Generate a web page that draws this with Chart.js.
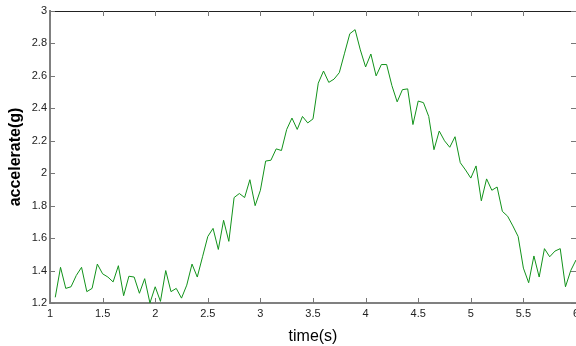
<!DOCTYPE html>
<html>
<head>
<meta charset="utf-8">
<script src="https://cdn.jsdelivr.net/npm/chart.js@4"></script>
<style>
  html, body { margin: 0; padding: 0; background: #fff; }
  canvas { display: block; }
</style>
</head>
<body>
<canvas id="accelChart" width="576" height="346"></canvas>
<script>
// sample times (s)
const times = [
  1.05, 1.10, 1.15, 1.20, 1.25, 1.30, 1.35, 1.40, 1.45, 1.50,
  1.55, 1.60, 1.65, 1.70, 1.75, 1.80, 1.85, 1.90, 1.95, 2.00,
  2.05, 2.10, 2.15, 2.20, 2.25, 2.30, 2.35, 2.40, 2.45, 2.50,
  2.55, 2.60, 2.65, 2.70, 2.75, 2.80, 2.85, 2.90, 2.95, 3.00,
  3.05, 3.10, 3.15, 3.20, 3.25, 3.30, 3.35, 3.40, 3.45, 3.50,
  3.55, 3.60, 3.65, 3.70, 3.75, 3.80, 3.85, 3.90, 3.95, 4.00,
  4.05, 4.10, 4.15, 4.20, 4.25, 4.30, 4.35, 4.40, 4.45, 4.50,
  4.55, 4.60, 4.65, 4.70, 4.75, 4.80, 4.85, 4.90, 4.95, 5.00,
  5.05, 5.10, 5.15, 5.20, 5.25, 5.30, 5.35, 5.40, 5.45, 5.50,
  5.55, 5.60, 5.65, 5.70, 5.75, 5.80, 5.85, 5.90, 5.95, 6.00
];

// acceleration (g)
const accel = [
  1.235, 1.42, 1.29, 1.30, 1.37, 1.42, 1.27, 1.29, 1.44, 1.38,
  1.36, 1.33, 1.43, 1.245, 1.365, 1.36, 1.26, 1.35, 1.20, 1.30,
  1.21, 1.40, 1.27, 1.29, 1.23, 1.31, 1.44, 1.36, 1.485, 1.61,
  1.66, 1.53, 1.71, 1.58, 1.85, 1.875, 1.85, 1.96, 1.80, 1.895,
  2.075, 2.08, 2.15, 2.14, 2.27, 2.34, 2.27, 2.35, 2.31, 2.335,
  2.555, 2.63, 2.56, 2.58, 2.62, 2.74, 2.86, 2.885, 2.76, 2.655,
  2.735, 2.60, 2.67, 2.67, 2.54, 2.44, 2.515, 2.52, 2.30, 2.445,
  2.435, 2.35, 2.145, 2.26, 2.20, 2.16, 2.225, 2.065, 2.02, 1.97,
  2.045, 1.83, 1.965, 1.895, 1.915, 1.765, 1.735, 1.675, 1.61, 1.415,
  1.325, 1.49, 1.36, 1.535, 1.485, 1.52, 1.535, 1.30, 1.40, 1.465
];

const xRange = [1, 6];
const yRange = [1.2, 3];

const points = times.map((t, i) => ({ x: t, y: accel[i] }));
const fmt = v => String(Math.round(v * 10) / 10);

// inward tick marks on all four sides plus the top frame line
const boxTicks = {
  id: 'boxTicks',
  afterDraw(chart) {
    const { ctx, chartArea: a, scales: { x, y } } = chart;
    const len = 5;
    ctx.save();
    ctx.strokeStyle = '#222';
    ctx.lineWidth = 1;
    ctx.beginPath();
    ctx.moveTo(a.left, a.top + 0.5);
    ctx.lineTo(a.right, a.top + 0.5);
    ctx.stroke();

    ctx.strokeStyle = '#777';
    ctx.beginPath();
    x.ticks.forEach(t => {
      const px = Math.round(x.getPixelForValue(t.value)) + 0.5;
      ctx.moveTo(px, a.bottom);
      ctx.lineTo(px, a.bottom - len);
      ctx.moveTo(px, a.top);
      ctx.lineTo(px, a.top + len);
    });
    y.ticks.forEach(t => {
      const py = Math.round(y.getPixelForValue(t.value)) + 0.5;
      ctx.moveTo(a.left, py);
      ctx.lineTo(a.left + len, py);
      ctx.moveTo(a.right, py);
      ctx.lineTo(a.right - len, py);
    });
    ctx.stroke();
    ctx.restore();
  }
};

new Chart(document.getElementById('accelChart').getContext('2d'), {
  type: 'line',
  data: {
    datasets: [{
      data: points,
      borderColor: '#11921a',
      borderWidth: 1,
      pointRadius: 0,
      tension: 0,
      fill: false
    }]
  },
  options: {
    responsive: false,
    animation: false,
    layout: { padding: { top: 11, right: 0, left: 0, bottom: 0 } },
    plugins: { legend: { display: false }, tooltip: { enabled: false } },
    scales: {
      x: {
        type: 'linear',
        min: xRange[0],
        max: xRange[1],
        grid: { display: false, drawTicks: false },
        border: { display: true, color: '#808080', width: 2 },
        ticks: {
          stepSize: 0.5,
          autoSkip: false,
          maxRotation: 0,
          padding: 4,
          color: '#222',
          font: { family: 'Arial, "Liberation Sans"', size: 11 },
          callback: fmt
        },
        title: {
          display: true,
          text: 'time(s)',
          color: '#000',
          font: { family: 'Arial, "Liberation Sans"', size: 16 },
          padding: { top: 0, bottom: 0 }
        },
        afterFit(scale) {
          scale.height = 43;
          scale.paddingLeft = 0;
          scale.paddingRight = 0;
        }
      },
      y: {
        min: yRange[0],
        max: yRange[1],
        grid: { display: false, drawTicks: false },
        border: { display: true, color: '#808080', width: 2 },
        ticks: {
          stepSize: 0.2,
          autoSkip: false,
          padding: 3,
          color: '#222',
          font: { family: 'Arial, "Liberation Sans"', size: 11 },
          callback: fmt
        },
        title: {
          display: true,
          text: 'accelerate(g)',
          color: '#000',
          font: { family: 'Arial, "Liberation Sans"', size: 16, weight: 'bold' },
          padding: { top: 6, bottom: 0 }
        },
        afterFit(scale) {
          scale.width = 50;
          scale.paddingTop = 0;
          scale.paddingBottom = 0;
        }
      }
    }
  },
  plugins: [boxTicks]
});
</script>
</body>
</html>
